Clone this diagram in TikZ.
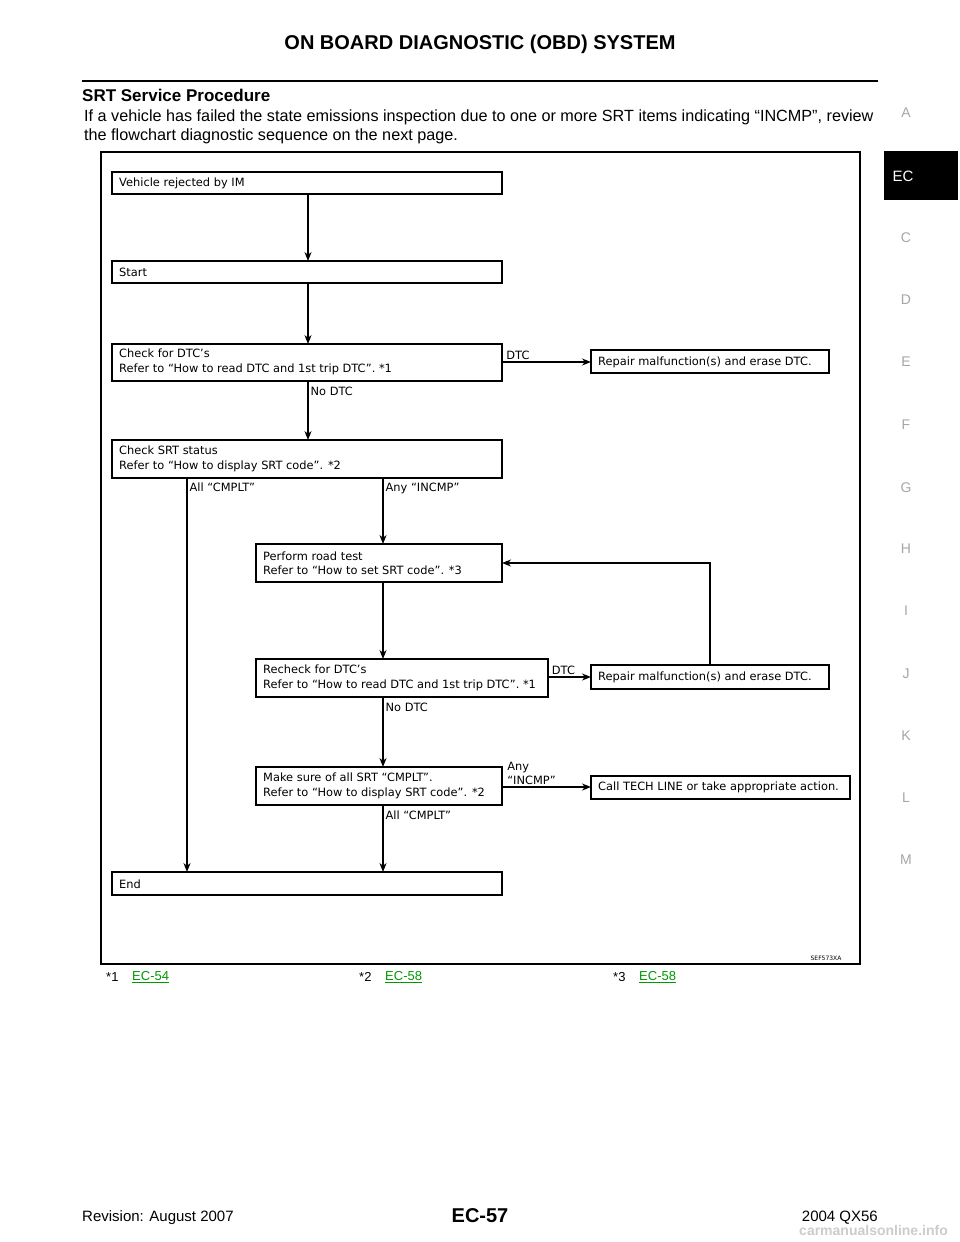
\documentclass[tikz,border=0pt]{standalone}
\usepackage{fontspec}
\setmainfont{Liberation Sans}
\newfontfamily\chartfont{DejaVu Sans}
\usetikzlibrary{positioning,arrows.meta}
\tikzset{
  line/.style={-{Stealth[length=9pt,width=7pt]}, line width=1.3pt},
  flowbox/.style={draw, line width=1.3pt},
  boxtext/.style={anchor=west, font=\chartfont\fontsize{11.4}{14.5}\selectfont, align=left, inner sep=0pt},
  lab/.style={anchor=south west, font=\chartfont\fontsize{11.4}{14}\selectfont, inner sep=2pt, align=left},
  tab/.style={text=gray!70, font=\fontsize{14}{16}\selectfont},
  ref/.style={anchor=west, font=\fontsize{13}{15}\selectfont, inner sep=0pt}
}
\begin{document}
\begin{tikzpicture}[x=1pt, y=-1pt]
  \useasboundingbox[fill=white] (0,0) rectangle (960,1242);
  % header
  \node[font=\bfseries\fontsize{20}{22}\selectfont] (title) at (480,44) {ON BOARD DIAGNOSTIC (OBD) SYSTEM};
  \draw[line width=1.5pt] (82,81) -- (878,81);
  \node[anchor=west, inner sep=0pt, font=\bfseries\fontsize{17}{19}\selectfont] (head) at (82,95) {SRT Service Procedure};
  \node[anchor=north west, inner sep=0pt, align=left, font=\fontsize{16.2}{19}\selectfont] (intro) at (84,110)
    {If a vehicle has failed the state emissions inspection due to one or more SRT items indicating “INCMP”, review\\the flowchart diagnostic sequence on the next page.};
  % side tabs
  \fill[black] (884,151) rectangle (958,200);
  \node[text=white, font=\fontsize{15}{17}\selectfont] (tabEC) at (903,176) {EC};
  \foreach \l/\y in {A/113,C/238,D/300,E/362,F/425,G/488,H/549,I/611,J/674,K/736,L/798,M/860}
    \node[tab] (tab\l) at (906,\y) {\l};
  % frame
  \draw[line width=1.3pt] (101,152) rectangle (860,964);
  % boxes
  \draw[flowbox] (112,172) rectangle (502,194);
  \node[boxtext] (veh) at (119,183) {Vehicle rejected by IM};
  \draw[flowbox] (112,261) rectangle (502,283);
  \node[boxtext] (start) at (119,272) {Start};
  \draw[flowbox] (112,344) rectangle (502,381);
  \node[boxtext] (chk) at (119,362) {Check for DTC’s\\Refer to “How to read DTC and 1st trip DTC”. *1};
  \draw[flowbox] (591,350) rectangle (829,373);
  \node[boxtext] (rep) at (598,362) {Repair malfunction(s) and erase DTC.};
  \draw[flowbox] (112,440) rectangle (502,478);
  \node[boxtext] (srt) at (119,459) {Check SRT status\\Refer to “How to display SRT code”. *2};
  \draw[flowbox] (256,544) rectangle (502,582);
  \node[boxtext] (road) at (263,563) {Perform road test\\Refer to “How to set SRT code”. *3};
  \draw[flowbox] (256,659) rectangle (548,697);
  \node[boxtext] (rechk) at (263,678) {Recheck for DTC’s\\Refer to “How to read DTC and 1st trip DTC”. *1};
  \draw[flowbox] (591,665) rectangle (829,689);
  \node[boxtext] (rep2) at (598,677) {Repair malfunction(s) and erase DTC.};
  \draw[flowbox] (256,767) rectangle (502,805);
  \node[boxtext] (sure) at (263,786) {Make sure of all SRT “CMPLT”.\\Refer to “How to display SRT code”. *2};
  \draw[flowbox] (591,776) rectangle (850,799);
  \node[boxtext] (call) at (598,787) {Call TECH LINE or take appropriate action.};
  \draw[flowbox] (112,872) rectangle (502,895);
  \node[boxtext] (end) at (119,884) {End};
  % connectors
  \coordinate (vehS) at (308,194);  \coordinate (startN) at (308,261);
  \coordinate (startS) at (308,283); \coordinate (chkN) at (308,344);
  \coordinate (chkS) at (308,381);  \coordinate (srtN) at (308,440);
  \coordinate (chkE) at (502,362);  \coordinate (repW) at (591,362);
  \coordinate (srtL) at (187,478);  \coordinate (endL) at (187,872);
  \coordinate (srtR) at (383,478);  \coordinate (roadN) at (383,544);
  \coordinate (roadS) at (383,582); \coordinate (rechkN) at (383,659);
  \coordinate (rechkS) at (383,697); \coordinate (sureN) at (383,767);
  \coordinate (sureS) at (383,805); \coordinate (endR) at (383,872);
  \coordinate (rechkE) at (548,677); \coordinate (rep2W) at (591,677);
  \coordinate (rep2N) at (710,665); \coordinate (roadE) at (502,563);
  \coordinate (sureE) at (502,787); \coordinate (callW) at (591,787);
  \draw[line] (vehS) -- (startN);
  \draw[line] (startS) -- (chkN);
  \draw[line] (chkS) -- node[lab, pos=0.05, anchor=north west] {No DTC} (srtN);
  \draw[line] (chkE) -- node[lab, pos=0.02, anchor=south west] {DTC} (repW);
  \draw[line] (srtL) -- node[lab, pos=0.005, anchor=north west] {All “CMPLT”} (endL);
  \draw[line] (srtR) -- node[lab, pos=0.03, anchor=north west] {Any “INCMP”} (roadN);
  \draw[line] (roadS) -- (rechkN);
  \draw[line] (rechkS) -- node[lab, pos=0.05, anchor=north west] {No DTC} (sureN);
  \draw[line] (sureS) -- node[lab, pos=0.05, anchor=north west] {All “CMPLT”} (endR);
  \draw[line] (rechkE) -- node[lab, pos=0.03, anchor=south west] {DTC} (rep2W);
  \draw[line] (rep2N) |- (roadE);
  \draw[line] (sureE) -- node[lab, pos=0.03, anchor=south west] {Any\\“INCMP”} (callW);
  \node[font=\chartfont\fontsize{6}{7}\selectfont] (sef) at (826,958) {SEF573XA};
  % footnotes
  \node[ref] (n1) at (106,977) {*1};
  \node[ref, text=green!60!black] (r1) at (132,977) {\underline{EC-54}};
  \node[ref] (n2) at (359,977) {*2};
  \node[ref, text=green!60!black] (r2) at (385,977) {\underline{EC-58}};
  \node[ref] (n3) at (613,977) {*3};
  \node[ref, text=green!60!black] (r3) at (639,977) {\underline{EC-58}};
  % footer
  \node[anchor=west, inner sep=0pt, font=\fontsize{15}{17}\selectfont] (rev) at (82,1218) {Revision: August 2007};
  \node[font=\bfseries\fontsize{20}{22}\selectfont] (page) at (480,1216) {EC-57};
  \node[anchor=east, inner sep=0pt, font=\fontsize{15}{17}\selectfont] (model) at (878,1218) {2004 QX56};
  \node[anchor=east, inner sep=0pt, text=gray!40, font=\bfseries\fontsize{14}{16}\selectfont] (wm) at (948,1230) {carmanualsonline.info};
\end{tikzpicture}
\end{document}
